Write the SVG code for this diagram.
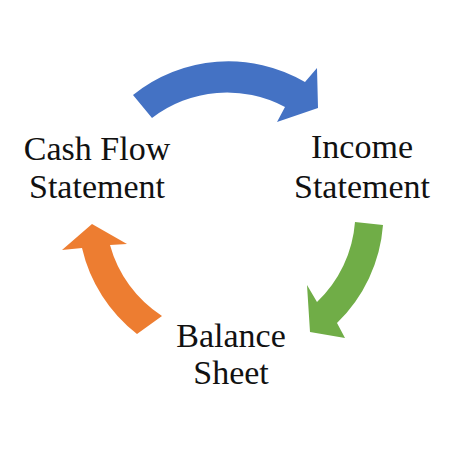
<svg xmlns="http://www.w3.org/2000/svg" width="450" height="450" viewBox="0 0 450 450">
<style>
.lbl{font-family:"Liberation Serif","Times New Roman",serif;font-size:34px;fill:#111;text-anchor:middle}
</style>
<rect width="450" height="450" fill="#fff"/>
<g id="connectors">
<path id="arrow-blue" fill="#4472C4" d="M133,95 A152,152 0 0 1 305,82 L317,68 L318,108 L277,122 L285,107 A123,123 0 0 0 152,118 Z"/>
<path id="arrow-green" fill="#70AD47" d="M383,225 A152,152 0 0 1 337,323 L345,338 L310,332 L307,285 L317,302 A123,123 0 0 0 355,222 Z"/>
<path id="arrow-orange" fill="#ED7D31" d="M137,334 A152,152 0 0 1 82,248 L62,250 L92,224 L127,244 L110,245 A123,123 0 0 0 162,316 Z"/>
</g>
<g id="node-cashflow">
<text class="lbl" x="97" y="160">Cash Flow</text>
<text class="lbl" x="97" y="198">Statement</text>
</g>
<g id="node-income">
<text class="lbl" x="362" y="158">Income</text>
<text class="lbl" x="362" y="198">Statement</text>
</g>
<g id="node-balance">
<text class="lbl" x="231" y="347">Balance</text>
<text class="lbl" x="231" y="384">Sheet</text>
</g>
</svg>
